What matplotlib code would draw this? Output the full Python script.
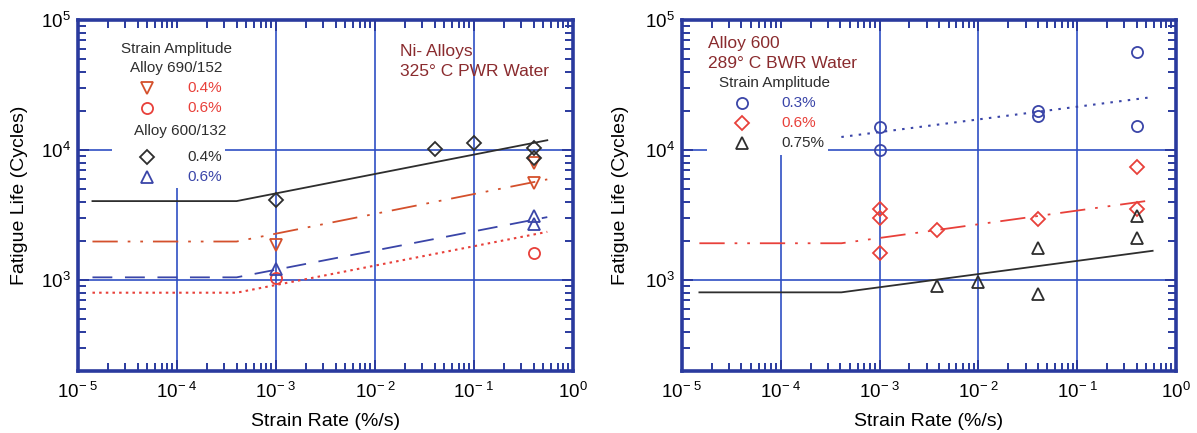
import numpy as np
import matplotlib.pyplot as plt
from matplotlib.patches import Rectangle
from matplotlib.ticker import LogLocator, FuncFormatter, NullFormatter

plt.rcParams['font.family'] = ['Liberation Sans', 'DejaVu Sans']
plt.rcParams['mathtext.fontset'] = 'custom'
plt.rcParams['mathtext.rm'] = 'Liberation Sans'
plt.rcParams['mathtext.it'] = 'Liberation Sans:italic'

# left panel: Ni alloys in 325 C PWR water (strain rate %/s, fatigue life cycles)
a690_04_rate = [1e-3, 0.4, 0.4]
a690_04_life = [1860, 7900, 5600]
a690_06_rate = [1e-3, 0.4]
a690_06_life = [1040, 1620]
a600_04_rate = [1e-3, 0.04, 0.1, 0.4, 0.4]
a600_04_life = [4100, 10200, 11300, 10300, 8700]
a600_06_rate = [1e-3, 0.4, 0.4]
a600_06_life = [1220, 3100, 2700]

# fitted curves, left panel (flat below 4e-4 %/s)
fit_rate = [1.4e-5, 4e-4, 0.55]
fit_a600_04 = [4050, 4050, 11900]
fit_a690_04 = [1980, 1980, 5950]
fit_a600_06 = [1050, 1050, 3050]
fit_a690_06 = [800, 800, 2350]

# right panel: Alloy 600 in 289 C BWR water
bwr03_rate = [1e-3, 1e-3, 0.04, 0.04, 0.4, 0.4]
bwr03_life = [15000, 10000, 20000, 18200, 57000, 15400]
bwr06_rate = [1e-3, 1e-3, 1e-3, 0.0038, 0.04, 0.4, 0.4]
bwr06_life = [3500, 3020, 1630, 2430, 2970, 7430, 3550]
bwr075_rate = [0.0038, 0.01, 0.04, 0.04, 0.4, 0.4]
bwr075_life = [900, 970, 1780, 780, 3110, 2120]

fit03_rate = [4.1e-4, 0.59]
fit03_life = [12600, 25600]
fit_bwr_rate = [1.5e-5, 4.1e-4, 0.58]
fit06_life = [1920, 1920, 4120]
fit075_life = [805, 805, 1680]

frame_col = '#2a3a9e'
grid_col = '#2f4fc4'
black = '#2e2e2e'
orange = '#d4502c'
red = '#e8403a'
blue = '#3a45a8'
maroon = '#8a2b2e'

dash_dotdot = (14, 5.5, 1.5, 5.5, 1.5, 5.5)
dashed = (11, 7)
dotted = (1.2, 2.0)


def fmt_tick(v, pos):
    e = int(round(np.log10(v)))
    if e < 0:
        return r'$\mathregular{10^{-\ %d}}$' % -e
    return r'$\mathregular{10^{%d}}$' % e


def setup(ax, ylab_x):
    ax.set_xscale('log')
    ax.set_yscale('log')
    ax.set_xlim(1e-5, 1)
    ax.set_ylim(200, 1e5)
    ax.xaxis.set_major_locator(LogLocator(base=10, numticks=10))
    ax.xaxis.set_minor_locator(LogLocator(base=10, subs=np.arange(2, 10), numticks=50))
    ax.yaxis.set_major_locator(LogLocator(base=10, numticks=10))
    ax.yaxis.set_minor_locator(LogLocator(base=10, subs=np.arange(2, 10), numticks=50))
    ax.xaxis.set_major_formatter(FuncFormatter(fmt_tick))
    ax.yaxis.set_major_formatter(FuncFormatter(fmt_tick))
    ax.xaxis.set_minor_formatter(NullFormatter())
    ax.yaxis.set_minor_formatter(NullFormatter())
    ax.tick_params(which='both', direction='in', top=True, right=True,
                   color=frame_col, width=1.4, labelsize=13.5)
    ax.tick_params(which='major', length=8)
    ax.tick_params(which='minor', length=6)
    ax.tick_params(axis='x', which='major', pad=8)
    ax.tick_params(axis='y', which='major', pad=5)
    ax.grid(True, which='major', color=grid_col, lw=1.2)
    for s in ax.spines.values():
        s.set_color(frame_col)
        s.set_linewidth(2.6)
    ax.set_xlabel('Strain Rate (%/s)', fontsize=14)
    ax.set_ylabel('Fatigue Life (Cycles)', fontsize=14)
    ax.xaxis.set_label_coords(0.5, -0.12)
    ax.yaxis.set_label_coords(ylab_x, 0.5)


fig = plt.figure(figsize=(11.97, 4.33), dpi=100)
ax1 = fig.add_axes([78 / 1197, 62 / 433, 495 / 1197, 351 / 433])
ax2 = fig.add_axes([682 / 1197, 62 / 433, 494 / 1197, 351 / 433])

mk = dict(ls='none', mfc='none', mew=1.3, ms=8)

# ---- left panel
setup(ax1, -0.1)
ax1.add_patch(Rectangle((0.069, 0.52), 0.228, 0.457, transform=ax1.transAxes,
                        facecolor='white', edgecolor='none', zorder=1.6))
ax1.plot(fit_rate, fit_a600_04, color=black, lw=1.3)
ax1.plot(fit_rate, fit_a690_04, color=orange, lw=1.3, dashes=dash_dotdot)
ax1.plot(fit_rate, fit_a600_06, color=blue, lw=1.3, dashes=dashed)
ax1.plot(fit_rate, fit_a690_06, color=red, lw=1.5, dashes=dotted)
ax1.plot(a690_04_rate, a690_04_life, marker='v', mec=orange, **mk)
ax1.plot(a690_06_rate, a690_06_life, marker='o', mec=red, **mk)
ax1.plot(a600_04_rate, a600_04_life, marker='D', mec=black, **dict(mk, ms=7))
ax1.plot(a600_06_rate, a600_06_life, marker='^', mec=blue, **mk)

ax1.text(0.65, 0.909, 'Ni- Alloys', transform=ax1.transAxes, color=maroon,
         fontsize=12.5, va='center', ha='left', zorder=3)
ax1.text(0.65, 0.852, '325° C PWR Water', transform=ax1.transAxes, color=maroon,
         fontsize=12.5, va='center', ha='left', zorder=3)

lx, tx = 0.139, 0.22
ax1.text(0.198, 0.917, 'Strain Amplitude', transform=ax1.transAxes, color=black,
         fontsize=11, ha='center', va='center', zorder=3)
ax1.text(0.198, 0.863, 'Alloy 690/152', transform=ax1.transAxes, color=black,
         fontsize=11, ha='center', va='center', zorder=3)
ax1.text(0.206, 0.684, 'Alloy 600/132', transform=ax1.transAxes, color=black,
         fontsize=11, ha='center', va='center', zorder=3)
legend1 = [('v', orange, red, '0.4%', 0.806, 8),
           ('o', red, red, '0.6%', 0.749, 8),
           ('D', black, black, '0.4%', 0.610, 7),
           ('^', blue, blue, '0.6%', 0.553, 8)]
for m, mc, tc, lab, y, ms in legend1:
    ax1.plot([lx], [y], marker=m, mec=mc, mfc='none', mew=1.3, ms=ms,
             transform=ax1.transAxes, zorder=3)
    ax1.text(tx, y, lab, transform=ax1.transAxes, color=tc, fontsize=11,
             ha='left', va='center', zorder=3)

# ---- right panel
setup(ax2, -0.107)
ax2.add_patch(Rectangle((0.051, 0.615), 0.245, 0.362, transform=ax2.transAxes,
                        facecolor='white', edgecolor='none', zorder=1.6))
ax2.plot(fit03_rate, fit03_life, color=blue, lw=1.5, dashes=(1.2, 3.0))
ax2.plot(fit_bwr_rate, fit06_life, color=red, lw=1.3, dashes=dash_dotdot)
ax2.plot(fit_bwr_rate, fit075_life, color=black, lw=1.3)
ax2.plot(bwr03_rate, bwr03_life, marker='o', mec=blue, **mk)
ax2.plot(bwr06_rate, bwr06_life, marker='D', mec=red, **dict(mk, ms=7))
ax2.plot(bwr075_rate, bwr075_life, marker='^', mec=black, **mk)

ax2.text(0.053, 0.934, 'Alloy 600', transform=ax2.transAxes, color=maroon,
         fontsize=12.5, va='center', ha='left', zorder=3)
ax2.text(0.053, 0.877, '289° C BWR Water', transform=ax2.transAxes, color=maroon,
         fontsize=12.5, va='center', ha='left', zorder=3)
ax2.text(0.075, 0.821, 'Strain Amplitude', transform=ax2.transAxes, color=black,
         fontsize=11, va='center', ha='left', zorder=3)
legend2 = [('o', blue, blue, '0.3%', 0.764, 8),
           ('D', red, red, '0.6%', 0.707, 7),
           ('^', black, black, '0.75%', 0.650, 8)]
for m, mc, tc, lab, y, ms in legend2:
    ax2.plot([0.121], [y], marker=m, mec=mc, mfc='none', mew=1.3, ms=ms,
             transform=ax2.transAxes, zorder=3)
    ax2.text(0.202, y, lab, transform=ax2.transAxes, color=tc, fontsize=11,
             ha='left', va='center', zorder=3)

fig.savefig('out.png', dpi=100)
